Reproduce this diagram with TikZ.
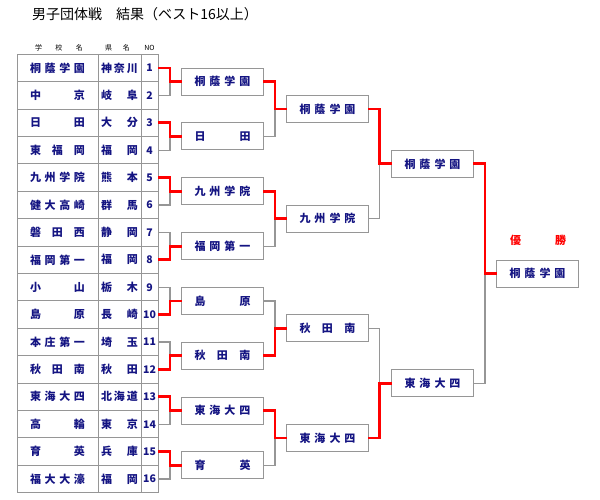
\documentclass[tikz,border=0pt]{standalone}
\usepackage{fontspec}
\setmainfont{Noto Sans CJK JP}
\definecolor{navy}{RGB}{20,20,130}
\definecolor{gline}{RGB}{150,150,150}
\newcommand\tabrow[3]{%
 \node[sch] (s#1) at (57.5,{68+(#1-1)*27.4}) {\makebox[55pt]{#2}};
 \node[prf] (p#1) at (119.5,{68+(#1-1)*27.4}) {\makebox[37pt]{#3}};
 \node[num] (n#1) at (149.5,{68+(#1-1)*27.4}) {#1};}
\newcommand\jt[1]{\makebox[56pt]{#1}}
% winner, loser, target, joint
\newcommand\match[4]{%
 \draw[lose] (#2.east) -- (#2.east -| #4) -- (#3.west -| #4);
 \draw[win] (#1.east) -- (#1.east -| #4) -- (#3.west -| #4) -- (#3.west);}
\begin{document}
\begin{tikzpicture}[x=1pt,y=-1pt,
  every node/.style={inner sep=0pt,outer sep=0pt},
  cell/.style={draw=gline,line width=1pt,minimum height=27.4pt,font=\fontsize{11}{11}\selectfont\bfseries,text=navy},
  sch/.style={cell,minimum width=81pt},
  prf/.style={cell,minimum width=43pt},
  num/.style={cell,minimum width=17pt,font=\fontsize{10.5}{10.5}\selectfont\bfseries},
  rbox/.style={draw=gline,line width=1pt,minimum width=81.5pt,minimum height=27pt,text=navy,font=\fontsize{11}{11}\selectfont\bfseries},
  lose/.style={draw=gline,line width=1.2pt},
  win/.style={draw=red,line width=2.8pt,line join=miter},
]
\useasboundingbox (0,0) rectangle (600,500);
\node[anchor=west,font=\fontsize{14}{14}\selectfont] (title) at (32,14) {男子団体戦　結果（ベスト16以上）};
\node[font=\fontsize{7}{7}\selectfont] (h1) at (59,48) {\makebox[48pt]{学\hfill 校\hfill 名}};
\node[font=\fontsize{7}{7}\selectfont] (h2) at (117.5,48) {\makebox[25pt]{県\hfill 名}};
\node[font=\fontsize{7}{7}\selectfont] (h3) at (149.5,48) {NO};

\tabrow{1}{桐\hfill 蔭\hfill 学\hfill 園}{神\hfill 奈\hfill 川}
\tabrow{2}{中\hfill 京}{岐\hfill 阜}
\tabrow{3}{日\hfill 田}{大\hfill 分}
\tabrow{4}{東\hfill 福\hfill 岡}{福\hfill 岡}
\tabrow{5}{九\hfill 州\hfill 学\hfill 院}{熊\hfill 本}
\tabrow{6}{健\hfill 大\hfill 高\hfill 崎}{群\hfill 馬}
\tabrow{7}{磐\hfill 田\hfill 西}{静\hfill 岡}
\tabrow{8}{福\hfill 岡\hfill 第\hfill 一}{福\hfill 岡}
\tabrow{9}{小\hfill 山}{栃\hfill 木}
\tabrow{10}{島\hfill 原}{長\hfill 崎}
\tabrow{11}{本\hfill 庄\hfill 第\hfill 一}{埼\hfill 玉}
\tabrow{12}{秋\hfill 田\hfill 南}{秋\hfill 田}
\tabrow{13}{東\hfill 海\hfill 大\hfill 四}{北\hfill 海\hfill 道}
\tabrow{14}{高\hfill 輪}{東\hfill 京}
\tabrow{15}{育\hfill 英}{兵\hfill 庫}
\tabrow{16}{福\hfill 大\hfill 大\hfill 濠}{福\hfill 岡}

\foreach \k/\t in {1/{桐\hfill 蔭\hfill 学\hfill 園},2/{日\hfill 田},3/{九\hfill 州\hfill 学\hfill 院},4/{福\hfill 岡\hfill 第\hfill 一},5/{島\hfill 原},6/{秋\hfill 田\hfill 南},7/{東\hfill 海\hfill 大\hfill 四},8/{育\hfill 英}}
  \node[rbox] (a\k) at (222.5,{68+(2*\k-1.5)*27.4}) {\jt{\t}};
\foreach \k/\t in {1/{桐\hfill 蔭\hfill 学\hfill 園},2/{九\hfill 州\hfill 学\hfill 院},3/{秋\hfill 田\hfill 南},4/{東\hfill 海\hfill 大\hfill 四}}
  \node[rbox] (b\k) at (327.5,{68+(4*\k-2.5)*27.4}) {\jt{\t}};
\node[rbox] (c1) at (432.5,163.9) {\jt{桐\hfill 蔭\hfill 学\hfill 園}};
\node[rbox] (c2) at (432.5,383.1) {\jt{東\hfill 海\hfill 大\hfill 四}};
\node[rbox] (d1) at (537.5,273.5) {\jt{桐\hfill 蔭\hfill 学\hfill 園}};
\node[text=red,font=\fontsize{11}{11}\selectfont\bfseries] (yusho) at (538,240) {\makebox[56pt]{優\hfill 勝}};

\coordinate (j1) at (170,0);
\coordinate (j2) at (275,0);
\coordinate (j3) at (379.5,0);
\coordinate (j4) at (485,0);

\match{n1}{n2}{a1}{j1}
\match{n3}{n4}{a2}{j1}
\match{n5}{n6}{a3}{j1}
\match{n8}{n7}{a4}{j1}
\match{n10}{n9}{a5}{j1}
\match{n12}{n11}{a6}{j1}
\match{n13}{n14}{a7}{j1}
\match{n15}{n16}{a8}{j1}
\match{a1}{a2}{b1}{j2}
\match{a3}{a4}{b2}{j2}
\match{a6}{a5}{b3}{j2}
\match{a7}{a8}{b4}{j2}
\match{b1}{b2}{c1}{j3}
\match{b4}{b3}{c2}{j3}
\match{c1}{c2}{d1}{j4}
\end{tikzpicture}
\end{document}
